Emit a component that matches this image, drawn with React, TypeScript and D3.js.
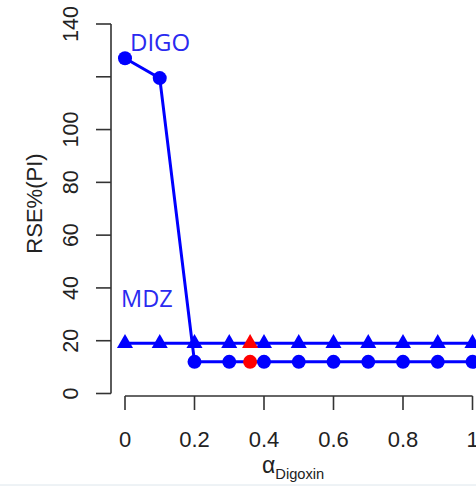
import React from "react";
import * as d3 from "d3";

// alpha values along the x axis
const alphas = [0, 0.1, 0.2, 0.3, 0.4, 0.5, 0.6, 0.7, 0.8, 0.9, 1.0];
// RSE% of the PI for each compound
const digoRSE = [127, 119.5, 12, 12, 12, 12, 12, 12, 12, 12, 12];
const mdzRSE = [19, 19, 19, 19, 19, 19, 19, 19, 19, 19, 19];
// the chosen design, shown in red
const chosenAlpha = [0.36];
const chosenDigo = [12];
const chosenMdz = [19];

const xTicks = [0, 0.2, 0.4, 0.6, 0.8, 1];
const xTickLabels = ["0", "0.2", "0.4", "0.6", "0.8", "1"];
const yTicks = [0, 20, 40, 60, 80, 100, 120, 140];
const yTickLabels = ["0", "20", "40", "60", "80", "100", "", "140"];

const App = () => {
  const width = 476;
  const height = 486;

  const x = d3.scaleLinear().domain([0, 1]).range([125, 472.5]);
  const y = d3.scaleLinear().domain([0, 140]).range([393.5, 24]);

  const line = d3.line<number>()
    .x((d, i) => x(alphas[i]))
    .y(d => y(d));

  const tri = d3.symbol().type(d3.symbolTriangle).size(112)();

  const axisCol = "#333";
  const tickFont = "'Liberation Sans', Arial, sans-serif";
  const blue = "#0000ff";

  return (
    <svg width={width} height={height}
      style={{ position: "absolute", left: 0, top: 0, background: "white" }}>
      {/* y axis */}
      <line x1={111} x2={111} y1={y(140)} y2={y(0)} stroke={axisCol} strokeWidth={1.6} />
      {yTicks.map((t, i) => (
        <g key={"yt" + i}>
          <line x1={96} x2={111} y1={y(t)} y2={y(t)} stroke={axisCol} strokeWidth={1.6} />
          {yTickLabels[i] !== "" && (
            <text transform={`translate(78,${y(t)}) rotate(-90)`} textAnchor="middle"
              fontFamily={tickFont} fontSize={21.5} fill="#222">{yTickLabels[i]}</text>
          )}
        </g>
      ))}
      <text transform={`translate(42,${203.5}) rotate(-90)`} textAnchor="middle"
        fontFamily={tickFont} fontSize={22} fill="#222">RSE%(PI)</text>

      {/* x axis */}
      <line x1={x(0)} x2={x(1)} y1={396} y2={396} stroke={axisCol} strokeWidth={1.6} />
      {xTicks.map((t, i) => (
        <g key={"xt" + i}>
          <line x1={x(t)} x2={x(t)} y1={396} y2={410} stroke={axisCol} strokeWidth={1.6} />
          <text x={x(t)} y={447} textAnchor="middle" fontFamily={tickFont}
            fontSize={22} fill="#222">{xTickLabels[i]}</text>
        </g>
      ))}
      <text x={262} y={473} fontFamily={tickFont} fill="#222">
        <tspan fontSize={23}>α</tspan>
        <tspan fontSize={14.7} dy={6}>Digoxin</tspan>
      </text>

      {/* series */}
      <path d={line(digoRSE) || ""} fill="none" stroke={blue} strokeWidth={3} />
      <path d={line(mdzRSE) || ""} fill="none" stroke={blue} strokeWidth={3} />
      {digoRSE.map((v, i) => (
        <circle key={"dc" + i} cx={x(alphas[i])} cy={y(v)} r={7} fill={blue} />
      ))}
      {mdzRSE.map((v, i) => (
        <path key={"mt" + i} d={tri || ""} transform={`translate(${x(alphas[i])},${y(v)})`} fill={blue} />
      ))}
      {chosenAlpha.map((a, i) => (
        <g key={"ch" + i}>
          <circle cx={x(a)} cy={y(chosenDigo[i])} r={7} fill="#ff0000" />
          <path d={tri || ""} transform={`translate(${x(a)},${y(chosenMdz[i])})`} fill="#ff0000" />
        </g>
      ))}

      <text x={130} y={51} fontFamily="'Open Sans', sans-serif" fontSize={24} fill="#2a2af0">DIGO</text>
      <text x={121} y={307} fontFamily="'Open Sans', sans-serif" fontSize={23.5} fill="#2a2af0">MDZ</text>

      <line x1={0} x2={width} y1={485} y2={485} stroke="#dde6ec" strokeWidth={1} />
    </svg>
  );
};

export default App;
